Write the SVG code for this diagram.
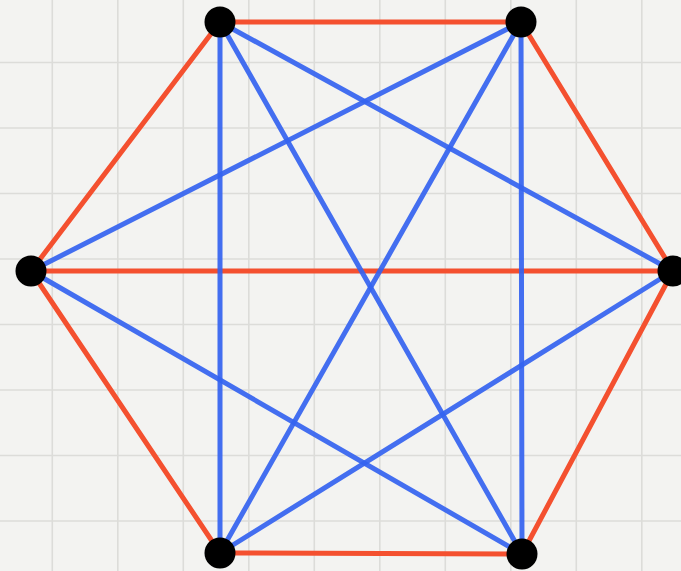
<svg xmlns="http://www.w3.org/2000/svg" width="681" height="571" viewBox="0 0 681 571">
<style>
.grid line{stroke:#dcdcd9;stroke-width:1.6}
.red{stroke:#f4502f;stroke-width:5;stroke-linecap:round}
.blue{stroke:#3463f0;stroke-width:5;stroke-linecap:round;stroke-opacity:0.92}
.node{fill:#000}
</style>
<rect width="681" height="571" fill="#f3f3f1"/>
<g class="grid">
<line x1="52.3" y1="0" x2="52.3" y2="571"/>
<line x1="117.8" y1="0" x2="117.8" y2="571"/>
<line x1="183.3" y1="0" x2="183.3" y2="571"/>
<line x1="248.8" y1="0" x2="248.8" y2="571"/>
<line x1="314.3" y1="0" x2="314.3" y2="571"/>
<line x1="379.8" y1="0" x2="379.8" y2="571"/>
<line x1="445.3" y1="0" x2="445.3" y2="571"/>
<line x1="510.8" y1="0" x2="510.8" y2="571"/>
<line x1="576.3" y1="0" x2="576.3" y2="571"/>
<line x1="641.8" y1="0" x2="641.8" y2="571"/>
<line x1="0" y1="62.5" x2="681" y2="62.5"/>
<line x1="0" y1="128" x2="681" y2="128"/>
<line x1="0" y1="193.5" x2="681" y2="193.5"/>
<line x1="0" y1="259" x2="681" y2="259"/>
<line x1="0" y1="324.5" x2="681" y2="324.5"/>
<line x1="0" y1="390" x2="681" y2="390"/>
<line x1="0" y1="455.5" x2="681" y2="455.5"/>
<line x1="0" y1="521" x2="681" y2="521"/>
</g>
<g id="connectors">
<line class="red" x1="220" y1="22" x2="521" y2="22"/>
<line class="red" x1="521" y1="22" x2="673" y2="271"/>
<line class="red" x1="673" y1="271" x2="522" y2="554"/>
<line class="red" x1="522" y1="554" x2="220" y2="553"/>
<line class="red" x1="220" y1="553" x2="31" y2="271"/>
<line class="red" x1="31" y1="271" x2="220" y2="22"/>
<line class="red" x1="31" y1="271" x2="673" y2="271"/>
<line class="blue" x1="220" y1="22" x2="220" y2="553"/>
<line class="blue" x1="521" y1="22" x2="522" y2="554"/>
<line class="blue" x1="220" y1="22" x2="673" y2="271"/>
<line class="blue" x1="220" y1="22" x2="522" y2="554"/>
<line class="blue" x1="521" y1="22" x2="31" y2="271"/>
<line class="blue" x1="521" y1="22" x2="220" y2="553"/>
<line class="blue" x1="31" y1="271" x2="522" y2="554"/>
<line class="blue" x1="673" y1="271" x2="220" y2="553"/>
</g>
<g id="n1"><circle class="node" cx="220" cy="22" r="15.5"/></g>
<g id="n2"><circle class="node" cx="521" cy="22" r="15.5"/></g>
<g id="n3"><circle class="node" cx="673" cy="271" r="15.5"/></g>
<g id="n4"><circle class="node" cx="522" cy="554" r="15.5"/></g>
<g id="n5"><circle class="node" cx="220" cy="553" r="15.5"/></g>
<g id="n6"><circle class="node" cx="31" cy="271" r="15.5"/></g>
</svg>
